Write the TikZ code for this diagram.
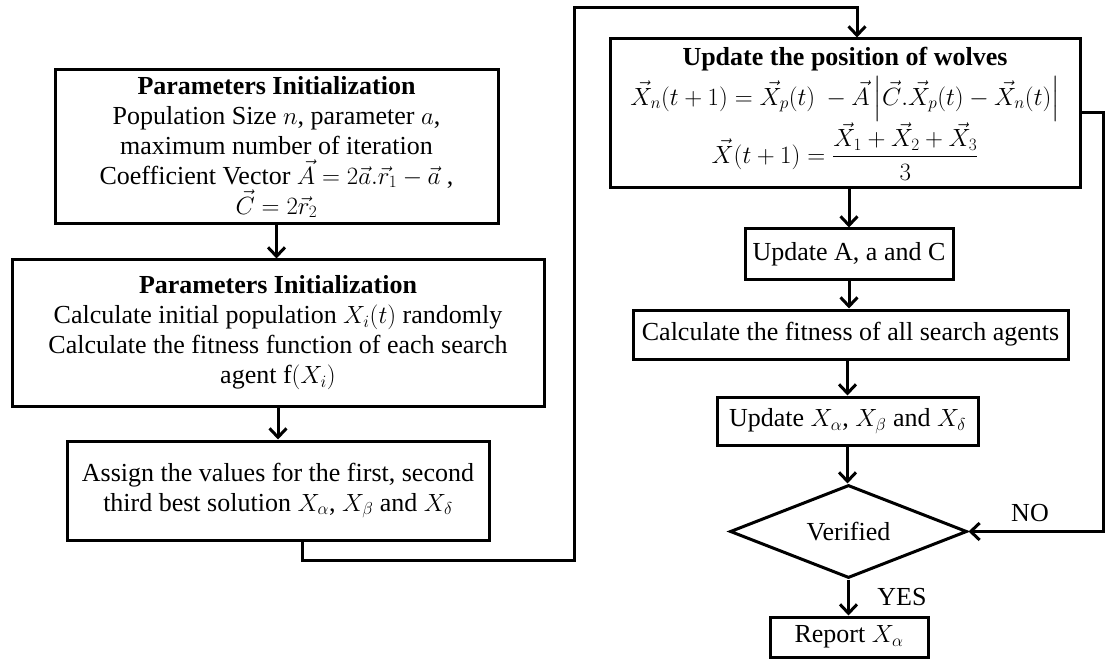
\documentclass[tikz,border=0pt]{standalone}
\usepackage{amsmath}
\usepackage{fontspec}
\setmainfont{Liberation Serif}
\usetikzlibrary{arrows.meta,shapes.geometric}
\newcommand{\eqsize}{\fontsize{23}{30}\selectfont}
\begin{document}
\begin{tikzpicture}[x=1pt,y=-1pt,
  every node/.style={font=\fontsize{26}{30}\selectfont},
  box/.style={draw,line width=3pt,rectangle,inner sep=0pt,align=center},
  dec/.style={draw,line width=3pt,diamond,aspect=2.55,inner sep=0pt},
  arr/.style={line width=3pt,-{Straight Barb[length=9pt,width=17pt,line width=3pt]}},
  lbl/.style={inner sep=0pt}]
\useasboundingbox (0,0) rectangle (1106,663);

% left column
\node[box,minimum width=443pt,minimum height=154pt] (b1) at (276.5,147)
  {\textbf{Parameters Initialization}\\
   Population Size $n$, parameter $a$,\\
   maximum number of iteration\\
   Coefficient Vector $\vec{A}=2\vec{a}.\vec{r}_1-\vec{a}$ ,\\
   $\vec{C}=2\vec{r}_2$};
\node[box,minimum width=532pt,minimum height=146pt] (b2) at (278,333)
  {\textbf{Parameters Initialization}\\
   Calculate initial population $X_i(t)$ randomly\\
   Calculate the fitness function of each search\\
   agent f$(X_i)$};
\node[box,minimum width=422pt,minimum height=99pt] (b3) at (278,490.5)
  {Assign the values for the first, second\\
   third best solution $X_\alpha$, $X_\beta$ and $X_\delta$};

% right column
\node[box,minimum width=470pt,minimum height=149pt] (b4) at (845,113.5)
  {\textbf{Update the position of wolves}\\[5pt]
   {\eqsize$\vec{X}_n(t+1)=\vec{X}_p(t)\ -\vec{A}\left|\vec{C}.\vec{X}_p(t)-\vec{X}_n(t)\right|$}\\
   {\eqsize$\vec{X}(t+1)=\dfrac{\vec{X}_1+\vec{X}_2+\vec{X}_3}{3}$}};
\node[box,minimum width=208pt,minimum height=50pt] (b5) at (849,254) {Update A, a and C};
\node[box,minimum width=435pt,minimum height=49pt] (b6) at (850.5,334.5) {Calculate the fitness of all search agents};
\node[box,minimum width=261pt,minimum height=48pt] (b7) at (847.5,421) {Update $X_\alpha$, $X_\beta$ and $X_\delta$};
\node[dec,minimum width=237pt,minimum height=93pt] (d) at (848.5,531.5) {Verified};
\node[box,minimum width=158pt,minimum height=40pt] (b8) at (849,637) {Report $X_\alpha$};

% loop route points
\coordinate (p1) at (302,560);
\coordinate (p2) at (574,8);
\coordinate (p3) at (857,8);
\coordinate (q1) at (1103,113);
\coordinate (q2) at (1103,531.5);

% connectors
\draw[arr] (b1.south) -- (b1.south |- b2.north);
\draw[arr] (b2.south) -- (b2.south |- b3.north);
\draw[arr] (b3.south -| p1) -- (p1) -- (p1 -| p2) -- (p2) -- (p3) -- (b4.north -| p3);
\draw[arr] (b5.north |- b4.south) -- (b5.north);
\draw[arr] (b5.south) -- (b5.south |- b6.north);
\draw[arr] (b6.south -| b7.north) -- (b7.north);
\draw[arr] (b7.south) -- (b7.south |- d.north);
\draw[arr] (d.south) -- (d.south |- b8.north);
\draw[arr] (b4.east |- q1) -- (q1) -- (q2) -- (d.east);

\node[lbl] (no) at (1030,513) {NO};
\node[lbl] (yes) at (902,597) {YES};
\end{tikzpicture}
\end{document}
